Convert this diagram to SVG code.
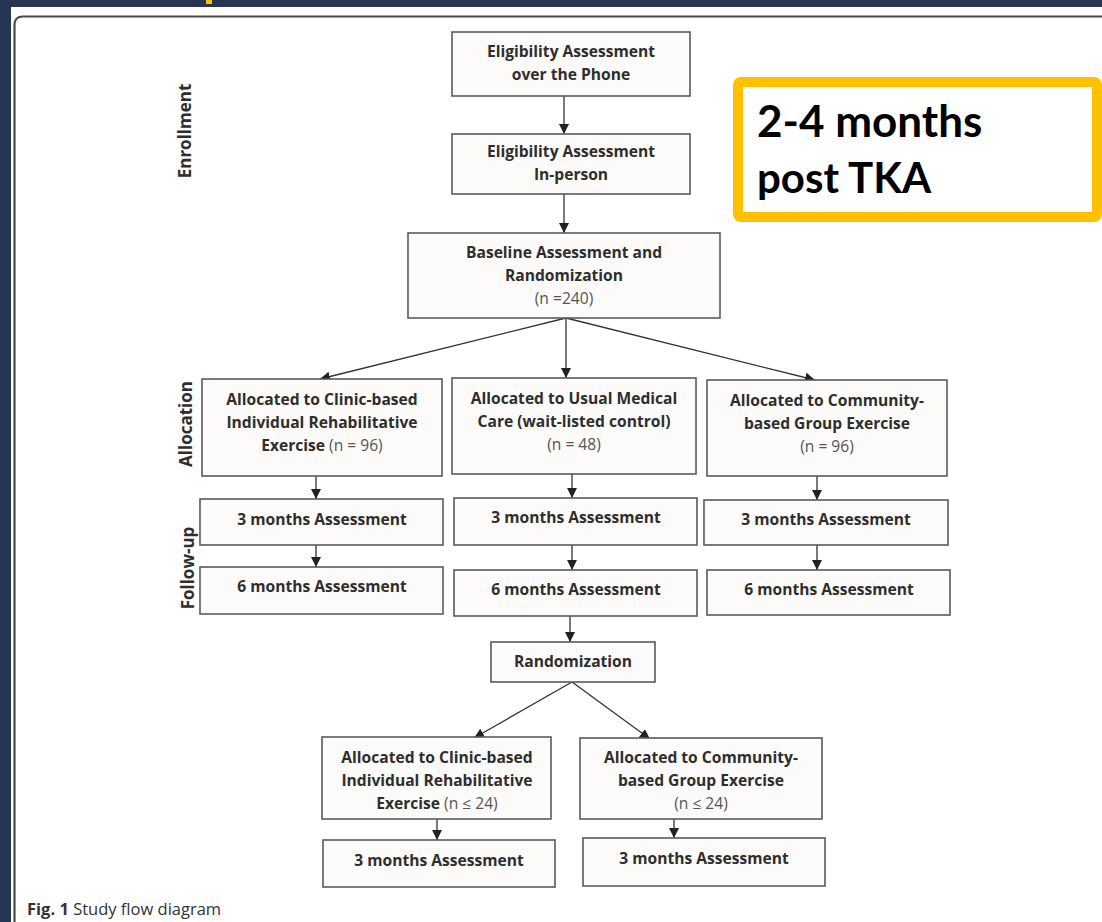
<svg xmlns="http://www.w3.org/2000/svg" width="1102" height="922" viewBox="0 0 1102 922">
<style>
.bx{fill:#fcfbf9;stroke:#5a5a5a;stroke-width:1.6}
.t{font-family:"Open Sans",Lato,sans-serif;font-size:15.6px;font-weight:bold;fill:#2e2e2e;text-anchor:middle}
.n{font-weight:normal;fill:#555}
.lab{font-family:"Open Sans",Lato,sans-serif;font-size:17px;font-weight:bold;fill:#2e2e2e;text-anchor:middle}
.c{stroke:#333;stroke-width:1.3;fill:none;marker-end:url(#ah)}
</style>
<defs>
<marker id="ah" viewBox="0 0 10 10" refX="10" refY="5" markerWidth="10" markerHeight="10" markerUnits="userSpaceOnUse" orient="auto">
<path d="M0,0 L10,5 L0,10 z" fill="#222"/>
</marker>
</defs>
<rect x="0" y="0" width="1102" height="922" fill="#263551"/>
<rect x="11" y="7" width="1091" height="915" fill="#ffffff"/>
<rect x="206" y="0" width="6" height="4" fill="#ffc000"/>
<path d="M14.5 922 V25 Q14.5 16.5 23 16.5 H1102" fill="none" stroke="#4a4a4a" stroke-width="2.2"/>

<g id="side-labels">
<text class="lab" transform="translate(191,131) rotate(-90)">Enrollment</text>
<text class="lab" transform="translate(192,424) rotate(-90)">Allocation</text>
<text class="lab" transform="translate(194,568) rotate(-90)">Follow-up</text>
</g>

<g id="connectors">
<line class="c" x1="564" y1="96" x2="564" y2="134"/>
<line class="c" x1="564" y1="194" x2="564" y2="233"/>
<line class="c" x1="566" y1="318" x2="320" y2="379"/>
<line class="c" x1="566" y1="318" x2="566" y2="378"/>
<line class="c" x1="566" y1="318" x2="815" y2="380"/>
<line class="c" x1="316" y1="476" x2="316" y2="499"/>
<line class="c" x1="316" y1="545" x2="316" y2="567"/>
<line class="c" x1="572" y1="474" x2="572" y2="498"/>
<line class="c" x1="572" y1="545" x2="572" y2="570"/>
<line class="c" x1="817" y1="476" x2="817" y2="500"/>
<line class="c" x1="817" y1="545" x2="817" y2="570"/>
<line class="c" x1="570" y1="616" x2="570" y2="642"/>
<line class="c" x1="572" y1="682" x2="474" y2="738"/>
<line class="c" x1="572" y1="682" x2="650" y2="739"/>
<line class="c" x1="437" y1="819" x2="437" y2="840"/>
<line class="c" x1="674" y1="819" x2="674" y2="838"/>
</g>

<g id="elig-phone"><rect class="bx" x="452" y="32" width="238" height="64"/>
<text class="t" x="571" y="57">Eligibility Assessment</text><text class="t" x="571" y="80">over the Phone</text></g>
<g id="elig-person"><rect class="bx" x="452" y="134" width="238" height="60"/>
<text class="t" x="571" y="157">Eligibility Assessment</text><text class="t" x="571" y="180">In-person</text></g>
<g id="baseline"><rect class="bx" x="408" y="233" width="312" height="85"/>
<text class="t" x="564" y="258">Baseline Assessment and</text><text class="t" x="564" y="281">Randomization</text><text class="t n" x="564" y="304">(n =240)</text></g>

<g id="alloc-clinic"><rect class="bx" x="202" y="379" width="240" height="97"/>
<text class="t" x="322" y="405">Allocated to Clinic-based</text><text class="t" x="322" y="428">Individual Rehabilitative</text><text class="t" x="322" y="451">Exercise <tspan class="n">(n = 96)</tspan></text></g>
<g id="alloc-usual"><rect class="bx" x="452" y="378" width="244" height="96"/>
<text class="t" x="574" y="404">Allocated to Usual Medical</text><text class="t" x="574" y="427">Care (wait-listed control)</text><text class="t n" x="574" y="450">(n = 48)</text></g>
<g id="alloc-community"><rect class="bx" x="707" y="380" width="240" height="96"/>
<text class="t" x="827" y="406">Allocated to Community-</text><text class="t" x="827" y="429">based Group Exercise</text><text class="t n" x="827" y="452">(n = 96)</text></g>

<g id="clinic-3m"><rect class="bx" x="200" y="499" width="243" height="46"/><text class="t" x="322" y="525">3 months Assessment</text></g>
<g id="usual-3m"><rect class="bx" x="454" y="498" width="243" height="47"/><text class="t" x="576" y="523">3 months Assessment</text></g>
<g id="community-3m"><rect class="bx" x="704" y="500" width="244" height="45"/><text class="t" x="826" y="525">3 months Assessment</text></g>

<g id="clinic-6m"><rect class="bx" x="200" y="567" width="243" height="47"/><text class="t" x="322" y="592">6 months Assessment</text></g>
<g id="usual-6m"><rect class="bx" x="454" y="570" width="243" height="46"/><text class="t" x="576" y="595">6 months Assessment</text></g>
<g id="community-6m"><rect class="bx" x="707" y="570" width="243" height="45"/><text class="t" x="829" y="595">6 months Assessment</text></g>

<g id="randomization"><rect class="bx" x="491" y="642" width="164" height="40"/><text class="t" x="573" y="667">Randomization</text></g>

<g id="rand-clinic"><rect class="bx" x="322" y="737" width="229" height="82"/>
<text class="t" x="437" y="763">Allocated to Clinic-based</text><text class="t" x="437" y="786">Individual Rehabilitative</text><text class="t" x="437" y="809">Exercise <tspan class="n">(n ≤ 24)</tspan></text></g>
<g id="rand-community"><rect class="bx" x="580" y="738" width="242" height="81"/>
<text class="t" x="701" y="763">Allocated to Community-</text><text class="t" x="701" y="786">based Group Exercise</text><text class="t n" x="701" y="809">(n ≤ 24)</text></g>

<g id="rand-clinic-3m"><rect class="bx" x="323" y="840" width="232" height="47"/><text class="t" x="439" y="866">3 months Assessment</text></g>
<g id="rand-community-3m"><rect class="bx" x="583" y="838" width="242" height="48"/><text class="t" x="704" y="864">3 months Assessment</text></g>

<g id="tka-note">
<rect x="738" y="82" width="359" height="135" rx="3" fill="#ffffff" stroke="#ffc000" stroke-width="10"/>
<text x="757" y="137" font-family="Lato,'Open Sans',sans-serif" font-weight="bold" font-size="44" fill="#000">2-4 months</text>
<text x="757" y="193" font-family="Lato,'Open Sans',sans-serif" font-weight="bold" font-size="42" fill="#000">post TKA</text>
</g>

<text x="27" y="915" font-family="'Open Sans',Lato,sans-serif" font-size="16.5" fill="#333"><tspan font-weight="bold">Fig. 1</tspan> Study flow diagram</text>
</svg>
